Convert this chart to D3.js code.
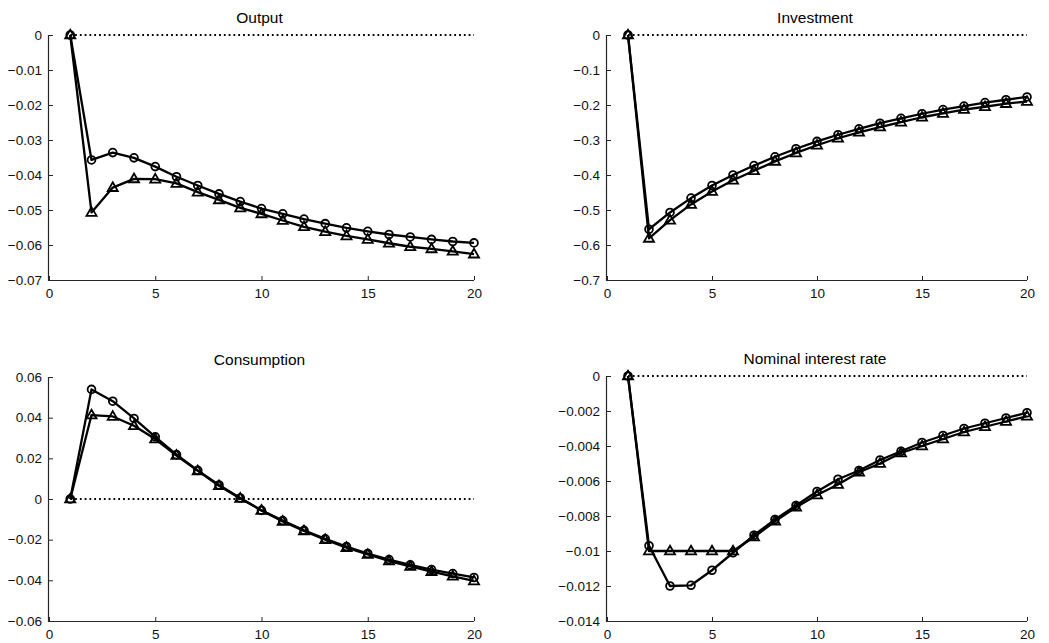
<!DOCTYPE html>
<html>
<head>
<meta charset="utf-8">
<script src="https://cdn.jsdelivr.net/npm/d3@7/dist/d3.min.js"></script>
<style>
  html, body { margin: 0; padding: 0; background: #fff; }
  svg { display: block; }
  text { font-family: "Liberation Sans", Arial, sans-serif; }
</style>
</head>
<body>
<svg id="chart" width="1049" height="643"></svg>
<script>
// Impulse responses over 20 periods: two model variants per variable
const periods = d3.range(1, 21);

const outputCircle = [0, -0.0357, -0.0336, -0.0351, -0.0376, -0.0405, -0.0430, -0.0454, -0.0476, -0.0496,
  -0.0511, -0.0526, -0.0539, -0.0551, -0.0561, -0.0570, -0.0577, -0.0584, -0.0590, -0.0594];
const outputTriangle = [0, -0.0507, -0.0436, -0.0411, -0.0412, -0.0424, -0.0449, -0.0471, -0.0494, -0.0511,
  -0.0530, -0.0548, -0.0562, -0.0574, -0.0584, -0.0595, -0.0605, -0.0611, -0.0618, -0.0626];

const investmentCircle = [0, -0.555, -0.507, -0.466, -0.430, -0.400, -0.373, -0.348, -0.325, -0.304,
  -0.285, -0.268, -0.252, -0.238, -0.225, -0.213, -0.203, -0.193, -0.185, -0.177];
const investmentTriangle = [0, -0.581, -0.529, -0.484, -0.447, -0.415, -0.388, -0.361, -0.337, -0.315,
  -0.295, -0.278, -0.263, -0.249, -0.235, -0.224, -0.213, -0.205, -0.196, -0.190];

const consumptionCircle = [0, 0.0539, 0.0481, 0.0396, 0.0306, 0.0218, 0.0141, 0.0069, 0.0005, -0.0056,
  -0.0106, -0.0154, -0.0196, -0.0234, -0.0268, -0.0298, -0.0324, -0.0347, -0.0367, -0.0386];
const consumptionTriangle = [0, 0.0413, 0.0406, 0.0360, 0.0295, 0.0214, 0.0138, 0.0065, 0.0003, -0.0056,
  -0.0110, -0.0157, -0.0200, -0.0239, -0.0273, -0.0305, -0.0332, -0.0357, -0.0380, -0.0403];

const rateCircle = [0, -0.0097, -0.0120, -0.01196, -0.0111, -0.0101, -0.0091, -0.0082, -0.0074, -0.0066,
  -0.0059, -0.0054, -0.0048, -0.0043, -0.0038, -0.0034, -0.0030, -0.0027, -0.0024, -0.0021];
const rateTriangle = [0, -0.0100, -0.0100, -0.0100, -0.0100, -0.0100, -0.0092, -0.0083, -0.0075, -0.0068,
  -0.0062, -0.0055, -0.0050, -0.0044, -0.0040, -0.0036, -0.0032, -0.0029, -0.0026, -0.0023];

const xTicks = [0, 5, 10, 15, 20];
const outputTicks = [0, -0.01, -0.02, -0.03, -0.04, -0.05, -0.06, -0.07];
const investmentTicks = [0, -0.1, -0.2, -0.3, -0.4, -0.5, -0.6, -0.7];
const consumptionTicks = [0.06, 0.04, 0.02, 0, -0.02, -0.04, -0.06];
const rateTicks = [0, -0.002, -0.004, -0.006, -0.008, -0.01, -0.012, -0.014];

const panels = [
  { title: "Output", circle: outputCircle, triangle: outputTriangle, ticks: outputTicks,
    domain: [-0.07, 0], box: { x0: 49, x1: 474, y0: 35, y1: 280 } },
  { title: "Investment", circle: investmentCircle, triangle: investmentTriangle, ticks: investmentTicks,
    domain: [-0.7, 0], box: { x0: 607, x1: 1027, y0: 35, y1: 280 } },
  { title: "Consumption", circle: consumptionCircle, triangle: consumptionTriangle, ticks: consumptionTicks,
    domain: [-0.06, 0.06], box: { x0: 49, x1: 474, y0: 377, y1: 621 } },
  { title: "Nominal interest rate", circle: rateCircle, triangle: rateTriangle, ticks: rateTicks,
    domain: [-0.014, 0], box: { x0: 607, x1: 1027, y0: 376, y1: 621 } }
];

const svg = d3.select("#chart");
const axisColor = "#262626";
const tickFmt = d => (d === 0 ? "0" : d3.format("")(+d.toPrecision(3)));

panels.forEach(p => {
  const b = p.box;
  const x = d3.scaleLinear().domain([0, 20]).range([b.x0, b.x1]);
  const y = d3.scaleLinear().domain(p.domain).range([b.y1, b.y0]);
  const g = svg.append("g");

  // zero reference line
  g.append("line")
    .attr("x1", x(1)).attr("x2", x(20))
    .attr("y1", y(0)).attr("y2", y(0))
    .attr("stroke", "#000").attr("stroke-width", 1.8)
    .attr("stroke-dasharray", "1.8,3");

  // axes with inward ticks
  const xAxis = d3.axisBottom(x).tickValues(xTicks).tickSize(-4).tickPadding(8).tickFormat(d3.format("d"));
  const yAxis = d3.axisLeft(y).tickValues(p.ticks).tickSize(-4).tickPadding(7).tickFormat(tickFmt);

  const gx = g.append("g").attr("transform", `translate(0,${b.y1})`).call(xAxis);
  const gy = g.append("g").attr("transform", `translate(${b.x0},0)`).call(yAxis);
  [gx, gy].forEach(a => {
    a.select(".domain").remove();
    a.selectAll(".tick line").attr("stroke", axisColor);
    a.selectAll(".tick text").attr("fill", "#111")
      .style("font-family", "'Liberation Sans', Arial, sans-serif").style("font-size", "13.5px");
  });
  // plain axis lines meeting at the corner
  g.append("line").attr("x1", b.x0 - 1).attr("x2", b.x1).attr("y1", b.y1 + 0.5).attr("y2", b.y1 + 0.5)
    .attr("stroke", axisColor).attr("stroke-width", 1.2);
  g.append("line").attr("x1", b.x0 - 0.5).attr("x2", b.x0 - 0.5).attr("y1", b.y0).attr("y2", b.y1 + 1)
    .attr("stroke", axisColor).attr("stroke-width", 1.2);

  // title
  g.append("text")
    .attr("x", (b.x0 + b.x1) / 2 - 2).attr("y", b.y0 - 12)
    .attr("text-anchor", "middle")
    .style("font-size", "15.5px").attr("fill", "#000")
    .text(p.title);

  const line = d3.line().x((d, i) => x(periods[i])).y(d => y(d));

  // series lines
  [p.circle, p.triangle].forEach(s => {
    g.append("path").datum(s).attr("d", line)
      .attr("fill", "none").attr("stroke", "#000").attr("stroke-width", 2.3)
      .attr("stroke-linejoin", "round");
  });

  // circle markers
  g.append("g").selectAll("circle").data(p.circle).join("circle")
    .attr("cx", (d, i) => x(periods[i])).attr("cy", d => y(d))
    .attr("r", 3.9).attr("fill", "none").attr("stroke", "#000").attr("stroke-width", 1.8);

  // triangle markers
  const tri = d3.symbol().type(d3.symbolTriangle).size(44);
  g.append("g").selectAll("path").data(p.triangle).join("path")
    .attr("d", tri)
    .attr("transform", (d, i) => `translate(${x(periods[i])},${y(d) + 0.5})`)
    .attr("fill", "none").attr("stroke", "#000").attr("stroke-width", 1.8);
});
</script>
</body>
</html>
